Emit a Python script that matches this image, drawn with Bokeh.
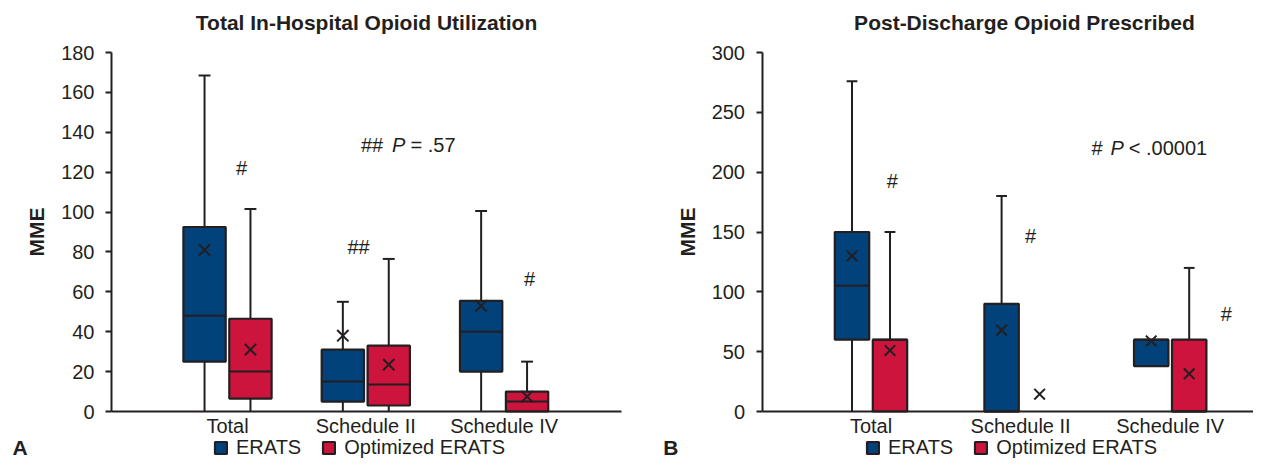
from bokeh.plotting import figure
from bokeh.models import Range1d, FixedTicker, Label, Legend, LegendItem
from bokeh.layouts import row
from bokeh.embed import file_html
from bokeh.resources import INLINE

# ---------------- data ----------------
categories = ["Total", "Schedule II", "Schedule IV"]
series_names = ["ERATS", "Optimized ERATS"]

# Panel A: Total In-Hospital Opioid Utilization (MME)
a_erats_low = [0, 0, 0]
a_erats_q1 = [25, 5, 20]
a_erats_med = [48, 15, 40]
a_erats_q3 = [92.5, 31, 55.5]
a_erats_high = [168.5, 55, 100.5]
a_erats_mean = [81, 38, 53]

a_opt_low = [0, 0, 0]
a_opt_q1 = [6.5, 3, 0]
a_opt_med = [20, 13.5, 5]
a_opt_q3 = [46.5, 33, 10]
a_opt_high = [101.5, 76.5, 25]
a_opt_mean = [31, 23.5, 7.5]

a_y_ticks = [0, 20, 40, 60, 80, 100, 120, 140, 160, 180]

# Panel B: Post-Discharge Opioid Prescribed (MME)
b_erats_low = [0, 0, 38]
b_erats_q1 = [60, 0, 38]
b_erats_med = [105, 0, 60]
b_erats_q3 = [150, 90, 60]
b_erats_high = [276, 180, 60]
b_erats_mean = [130, 68, 59]

b_opt_low = [0, 0, 0]
b_opt_q1 = [0, 0, 0]
b_opt_med = [60, 0, 0]
b_opt_q3 = [60, 0, 60]
b_opt_high = [150, 0, 120]
b_opt_mean = [51, 14.5, 31.5]

b_y_ticks = [0, 50, 100, 150, 200, 250, 300]

# ---------------- style ----------------
INK = "#231f20"
BLUE = "#02427b"
RED = "#cc143c"
FONT = "Liberation Sans"
H = 459            # figure height
TOP = 9            # frame top (px)
Y0_PX = 411        # pixel row of y = 0
YMAX_PX = 52       # pixel row of the top tick


class Panel:
    """One panel; the frame fills the whole figure, axes are pinned inside it."""

    def __init__(self, width, axis_px, cat1_px, step_px, axis_end_px, ymax, yticks):
        self.step = step_px
        self.x_start = 1 - cat1_px / step_px
        x_end = self.x_start + width / step_px
        self.x_axis_at = self.x_start + axis_px / step_px
        self.x_axis_end = min(x_end, self.x_start + axis_end_px / step_px)
        self.ypx = (Y0_PX - YMAX_PX) / ymax
        y_top = (Y0_PX - TOP) / self.ypx
        y_bot = -(H - Y0_PX) / self.ypx
        p = figure(width=width, height=H, x_range=Range1d(self.x_start, x_end),
                   y_range=Range1d(y_bot, y_top), output_backend="svg",
                   toolbar_location=None, min_border_left=0, min_border_right=0,
                   min_border_top=TOP, min_border_bottom=0)
        p.outline_line_color = None
        p.grid.visible = False
        self.p = p
        self.ymax = ymax
        self.yticks = yticks

    def px(self, x, y):
        """figure pixel -> data coordinates (for placing text only)"""
        return (self.x_start + x / self.step, (Y0_PX - y) / self.ypx)

    def text(self, x, y, text, size="20px", style="normal", align="center"):
        dx, dy = self.px(x, y)
        self.p.add_layout(Label(x=dx, y=dy, text=text, text_font=FONT, text_font_size=size,
                                text_font_style=style, text_color=INK, text_align=align,
                                text_baseline="middle"))

    def draw(self, series, box_w, off, cap_hw, mark_size, legend_x):
        p = self.p
        idx = [1, 2, 3]
        boxes = []
        for k, (low, q1, med, q3, high, mean, color) in enumerate(series):
            xs = [i + (-off if k == 0 else off) for i in idx]
            p.segment(x0=xs, y0=low, x1=xs, y1=q1, line_color=INK, line_width=2)
            p.segment(x0=xs, y0=q3, x1=xs, y1=high, line_color=INK, line_width=2)
            cx = [x for x, h, t in zip(xs, high, q3) if h > t]
            ch = [h for h, t in zip(high, q3) if h > t]
            p.segment(x0=[x - cap_hw for x in cx], y0=ch, x1=[x + cap_hw for x in cx], y1=ch,
                      line_color=INK, line_width=2)
            # boxes (a box of zero height is not drawn)
            keep = [j for j in range(len(xs)) if q3[j] > q1[j]]
            bx = [xs[j] for j in keep]
            r = p.vbar(x=bx, width=box_w, bottom=[q1[j] for j in keep],
                       top=[q3[j] for j in keep], fill_color=color,
                       line_color=INK, line_width=2.2)
            boxes.append(r)
            p.segment(x0=[x - box_w / 2 for x in bx], y0=[med[j] for j in keep],
                      x1=[x + box_w / 2 for x in bx], y1=[med[j] for j in keep],
                      line_color=INK, line_width=2)
            p.scatter(x=xs, y=mean, marker="x", size=mark_size, line_color=INK, line_width=2)

        for ax in (p.xaxis[0], p.yaxis[0]):
            ax.axis_line_color = INK
            ax.axis_line_width = 2
            ax.major_tick_line_color = INK
            ax.major_tick_line_width = 2
            ax.minor_tick_line_color = None
            ax.major_label_text_color = INK
            ax.major_label_text_font = FONT
            ax.major_label_text_font_size = "20px"

        p.xaxis.fixed_location = 0
        p.xaxis.bounds = (self.x_axis_at, self.x_axis_end)
        p.xaxis.ticker = FixedTicker(ticks=idx)
        p.xaxis.major_label_overrides = {i: c for i, c in zip(idx, categories)}
        p.xaxis.major_tick_out = 0
        p.xaxis.major_tick_in = 0
        p.xaxis.major_label_standoff = 3

        p.yaxis.fixed_location = self.x_axis_at
        p.yaxis.bounds = (0, self.ymax)
        p.yaxis.ticker = FixedTicker(ticks=self.yticks)
        p.yaxis.major_tick_out = 6
        p.yaxis.major_tick_in = 0
        p.yaxis.major_label_standoff = 11
        p.yaxis.axis_label = "MME"
        p.yaxis.axis_label_text_font = FONT
        p.yaxis.axis_label_text_font_style = "bold"
        p.yaxis.axis_label_text_font_size = "21px"
        p.yaxis.axis_label_text_color = INK
        p.yaxis.axis_label_standoff = 10

        legend = Legend(items=[LegendItem(label=series_names[0], renderers=[boxes[0]]),
                               LegendItem(label=series_names[1], renderers=[boxes[1]])],
                        orientation="horizontal", location=(legend_x, 0),
                        padding=0, margin=0, spacing=20, label_standoff=8,
                        glyph_width=15, glyph_height=15, label_height=15,
                        label_text_font=FONT, label_text_font_size="20px",
                        label_text_color=INK, border_line_color=None,
                        background_fill_alpha=0)
        p.add_layout(legend)


# ---------------- panel A ----------------
A = Panel(640, axis_px=111, cat1_px=227, step_px=138.3, axis_end_px=621,
          ymax=180, yticks=a_y_ticks)
A.draw([(a_erats_low, a_erats_q1, a_erats_med, a_erats_q3, a_erats_high, a_erats_mean, BLUE),
        (a_opt_low, a_opt_q1, a_opt_med, a_opt_q3, a_opt_high, a_opt_mean, RED)],
       box_w=0.306, off=0.166, cap_hw=0.043, mark_size=16, legend_x=213)
A.text(366, 22, "Total In-Hospital Opioid Utilization", size="21px", style="bold")
A.text(241, 167, "#")
A.text(358, 246, "##")
A.text(529, 278, "#")
A.text(360.5, 144, "##", align="left")
A.text(391.5, 144, "P", style="italic", align="left")
A.text(410, 144, "= .57", align="left")
A.text(12, 447, "A", size="21px", style="bold", align="left")

# ---------------- panel B (starts at x = 640) ----------------
B = Panel(613, axis_px=121.5, cat1_px=230.5, step_px=149.6, axis_end_px=613,
          ymax=300, yticks=b_y_ticks)
B.draw([(b_erats_low, b_erats_q1, b_erats_med, b_erats_q3, b_erats_high, b_erats_mean, BLUE),
        (b_opt_low, b_opt_q1, b_opt_med, b_opt_q3, b_opt_high, b_opt_mean, RED)],
       box_w=0.23, off=0.127, cap_hw=0.036, mark_size=15, legend_x=225)
B.text(384, 22, "Post-Discharge Opioid Prescribed", size="21px", style="bold")
B.text(251.7, 180, "#")
B.text(390, 235, "#")
B.text(585.7, 313, "#")
B.text(451, 147, "#", align="left")
B.text(470, 147, "P", style="italic", align="left")
B.text(488.3, 147, "< .00001", align="left")
B.text(22.7, 447, "B", size="21px", style="bold", align="left")

layout = row(A.p, B.p)
open("out.html", "w").write(file_html(layout, INLINE))
